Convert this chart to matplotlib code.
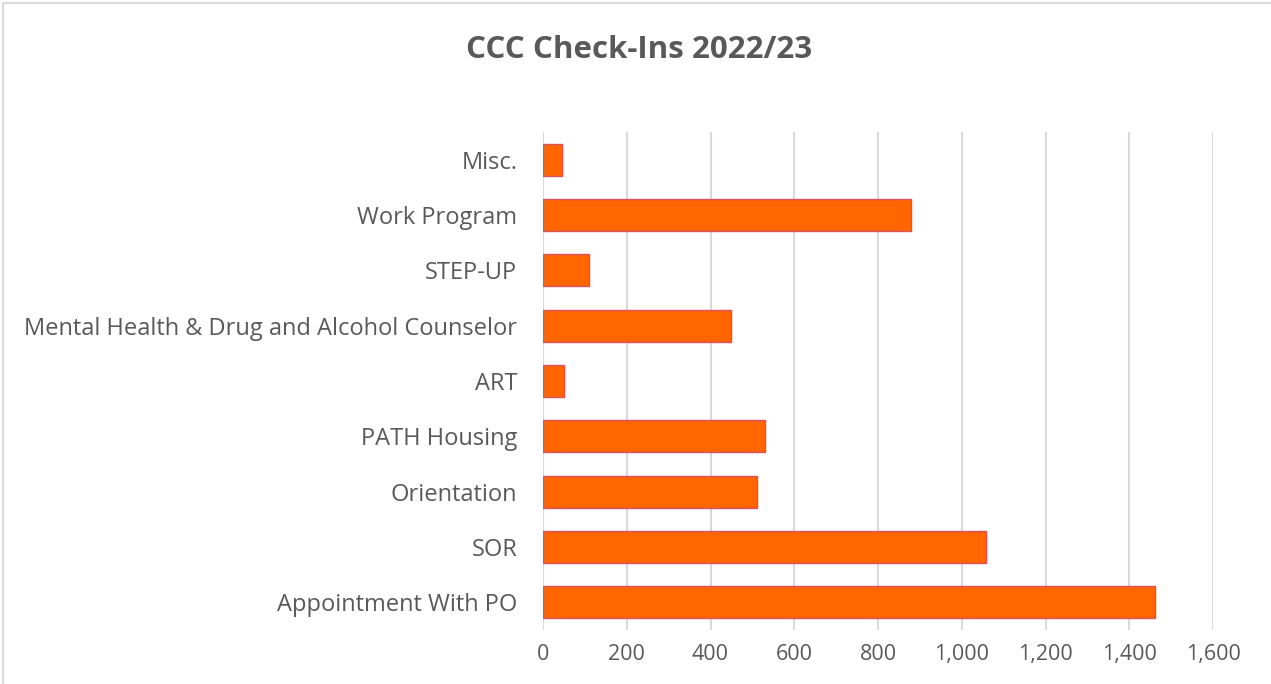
import numpy as np
import matplotlib
matplotlib.use('Agg')
from matplotlib import pyplot as plt
from matplotlib.patches import Rectangle
from matplotlib.ticker import FuncFormatter

categories = ['Appointment With PO', 'SOR', 'Orientation', 'PATH Housing', 'ART',
              'Mental Health & Drug and Alcohol Counselor', 'STEP-UP', 'Work Program', 'Misc.']
checkins = [1462, 1057, 510, 530, 50, 450, 110, 879, 46]
xticks = [0, 200, 400, 600, 800, 1000, 1200, 1400, 1600]
title = 'CCC Check-Ins 2022/23'

plt.rcParams['font.family'] = ['Open Sans', 'DejaVu Sans']
txtcol = '#595959'

fig = plt.figure(figsize=(12.71, 6.84), dpi=100)
ax = fig.add_axes([543/1271, 1 - 630/684, (1213 - 543)/1271, (630 - 132)/684])

ypos = np.arange(len(categories))
ax.barh(ypos, checkins, height=0.58, color='#FF6600', edgecolor='#D9525E', linewidth=1.0, zorder=3)

ax.set_xlim(0, 1600)
ax.set_ylim(-0.5, len(categories) - 0.5)
ax.set_xticks(xticks)
ax.xaxis.set_major_formatter(FuncFormatter(lambda v, p: f'{int(v):,}'))
ax.set_yticks(ypos)
ax.set_yticklabels(categories)
ax.tick_params(axis='both', length=0, labelcolor=txtcol)
ax.tick_params(axis='x', pad=10, labelsize=15.5)
ax.tick_params(axis='y', pad=18.5, labelsize=17)
ax.grid(axis='x', color='#D9D9D9', linewidth=1.5, zorder=0)
for s in ax.spines.values():
    s.set_visible(False)

fig.text(0.5 + 4/1271, 1 - 50/684, title, ha='center', va='center', fontsize=22.5,
         fontweight='bold', color=txtcol)

# chart border
fig.patches.append(Rectangle((3/1271, -0.1), 1.2, 1 - 3/684 + 0.1, transform=fig.transFigure,
                             fill=False, edgecolor='#D9D9D9', linewidth=1.5))

fig.savefig('out.png', dpi=100)
